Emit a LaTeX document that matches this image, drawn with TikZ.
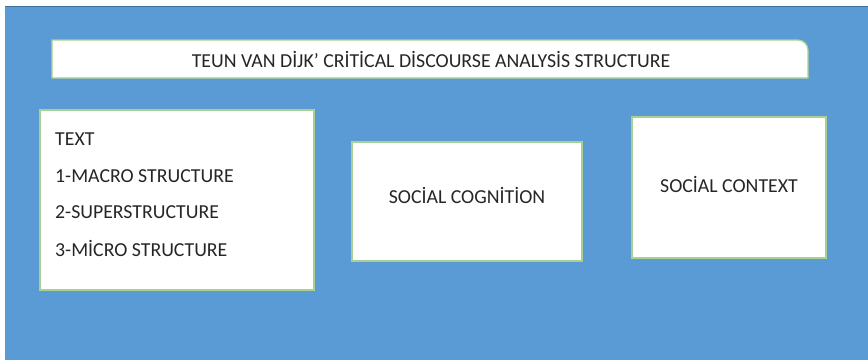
\documentclass[tikz,border=0pt]{standalone}
\usepackage{fontspec}
\setmainfont{Carlito}
\definecolor{bgblue}{HTML}{5B9BD5}
\definecolor{bgedge}{HTML}{41719C}
\definecolor{boxedge}{HTML}{A9D18E}
\begin{document}
\begin{tikzpicture}[x=1pt,y=-1pt,
  card/.style={draw=boxedge,line width=1.2pt,fill=white},
  lbl/.style={font=\fontsize{19.8}{23}\selectfont,text=black!85,inner sep=0pt}]
\useasboundingbox (0,0) rectangle (868,360);
\fill[white] (0,0) rectangle (868,360);
\fill[bgblue] (5,6) rectangle (868,360);
\draw[bgedge,line width=1pt] (5,6) -- (868,6);
% title box with rounded top-right corner
\draw[card] (52,40) -- (798,40) arc[start angle=-90,end angle=0,radius=10] -- (808,78) -- (52,78) -- cycle;
\node[lbl] (title) at (431,59) {TEUN VAN DİJK’ CRİTİCAL DİSCOURSE ANALYSİS STRUCTURE};
% text box
\draw[card] (40,110) rectangle (314,290);
\node[lbl,anchor=west] (t0) at (55,139) {TEXT};
\node[lbl,anchor=west] (t1) at (55,176) {1-MACRO STRUCTURE};
\node[lbl,anchor=west] (t2) at (55,212) {2-SUPERSTRUCTURE};
\node[lbl,anchor=west] (t3) at (55,248) {3-MİCRO STRUCTURE};
% social cognition
\draw[card] (352,142) rectangle (582,261);
\node[lbl] (cog) at (467,195) {SOCİAL COGNİTİON};
% social context
\draw[card] (632,117) rectangle (826,258);
\node[lbl] (ctx) at (729,184) {SOCİAL CONTEXT};
\end{tikzpicture}
\end{document}
